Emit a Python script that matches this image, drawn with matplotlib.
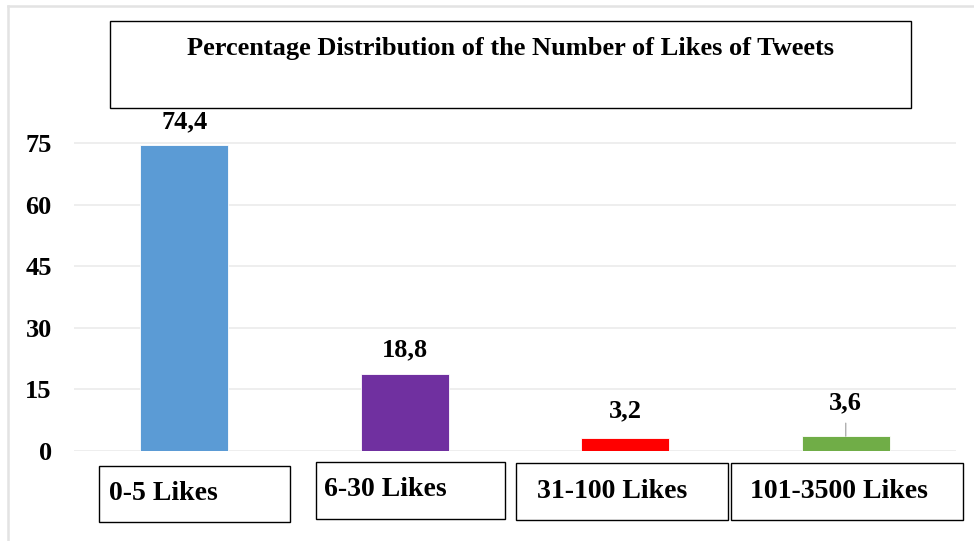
import matplotlib.pyplot as plt
from matplotlib.patches import Rectangle
from matplotlib.lines import Line2D

categories = ['0-5 Likes', '6-30 Likes', '31-100 Likes', '101-3500 Likes']
values = [74.4, 18.8, 3.2, 3.6]
value_labels = ['74,4', '18,8', '3,2', '3,6']
colors = ['#5B9BD5', '#7030A0', '#FF0000', '#70AD47']
yticks = [0, 15, 30, 45, 60, 75]

W, H = 974, 541
plt.rcParams['font.family'] = ['Liberation Serif', 'DejaVu Serif']
plt.rcParams['font.weight'] = 'bold'

fig = plt.figure(figsize=(W / 100, H / 100), dpi=100)

def fx(px):
    return px / W

def fy(py):
    return 1 - py / H

# axes: x from 74 to 956 px, y 0 at 451 px, 80 at ~122 px
ax = fig.add_axes([fx(74), fy(451), fx(956) - fx(74), fy(122.4) - fy(451)])
ax.bar(range(len(values)), values, width=0.4, color=colors, edgecolor='white', linewidth=0.6, zorder=3)
ax.set_xlim(-0.5, 3.5)
ax.set_ylim(0, 80)
ax.set_yticks(yticks)
ax.set_yticklabels([str(t) for t in yticks], fontsize=19, fontweight='bold')
ax.tick_params(axis='y', length=0, pad=16)
ax.set_xticks([])
ax.grid(axis='y', color='#EBEBEB', linewidth=1.2, zorder=0)
for s in ax.spines.values():
    s.set_visible(False)

# value labels (offsets in px above bar top)
offsets = [24, 24, 27, 33]
for i, (v, lab) in enumerate(zip(values, value_labels)):
    ax.annotate(lab, (i, v), xytext=(0, offsets[i] * 0.72), textcoords='offset points',
                ha='center', va='center', fontsize=19, fontweight='bold')
# leader line for the green label
ax.annotate('', (3, values[3]), xytext=(0, 9.4), textcoords='offset points',
            arrowprops=dict(arrowstyle='-', color='#A6A6A6', lw=0.9,
                            shrinkA=0, shrinkB=0))

# outer light border (top and left only)
fig.lines.append(Line2D([fx(8), 1], [fy(6), fy(6)], transform=fig.transFigure,
                        color='#E3E3E3', linewidth=1.8))
fig.lines.append(Line2D([fx(8), fx(8)], [fy(6), 0], transform=fig.transFigure,
                        color='#E3E3E3', linewidth=1.8))

# title box
fig.patches.append(Rectangle((fx(110), fy(108)), fx(911) - fx(110), fy(21) - fy(108),
                             transform=fig.transFigure, fill=False,
                             edgecolor='black', linewidth=1.0))
fig.text(fx(510), fy(48), 'Percentage Distribution of the Number of Likes of Tweets',
         ha='center', va='center', fontsize=19, fontweight='bold')

# category boxes
boxes = [(99, 466, 290, 522), (316, 462, 505, 519), (516, 463, 728, 520), (731, 463, 963, 520)]
label_pos = [(109, 494), (324, 490), (537, 492), (750, 492)]
for (x0, y0, x1, y1), (tx, ty), name in zip(boxes, label_pos, categories):
    fig.patches.append(Rectangle((fx(x0), fy(y1)), fx(x1) - fx(x0), fy(y0) - fy(y1),
                                 transform=fig.transFigure, fill=False,
                                 edgecolor='black', linewidth=1.0))
    fig.text(fx(tx), fy(ty), name, ha='left', va='center', fontsize=20, fontweight='bold')

fig.savefig('out.png', dpi=100)
